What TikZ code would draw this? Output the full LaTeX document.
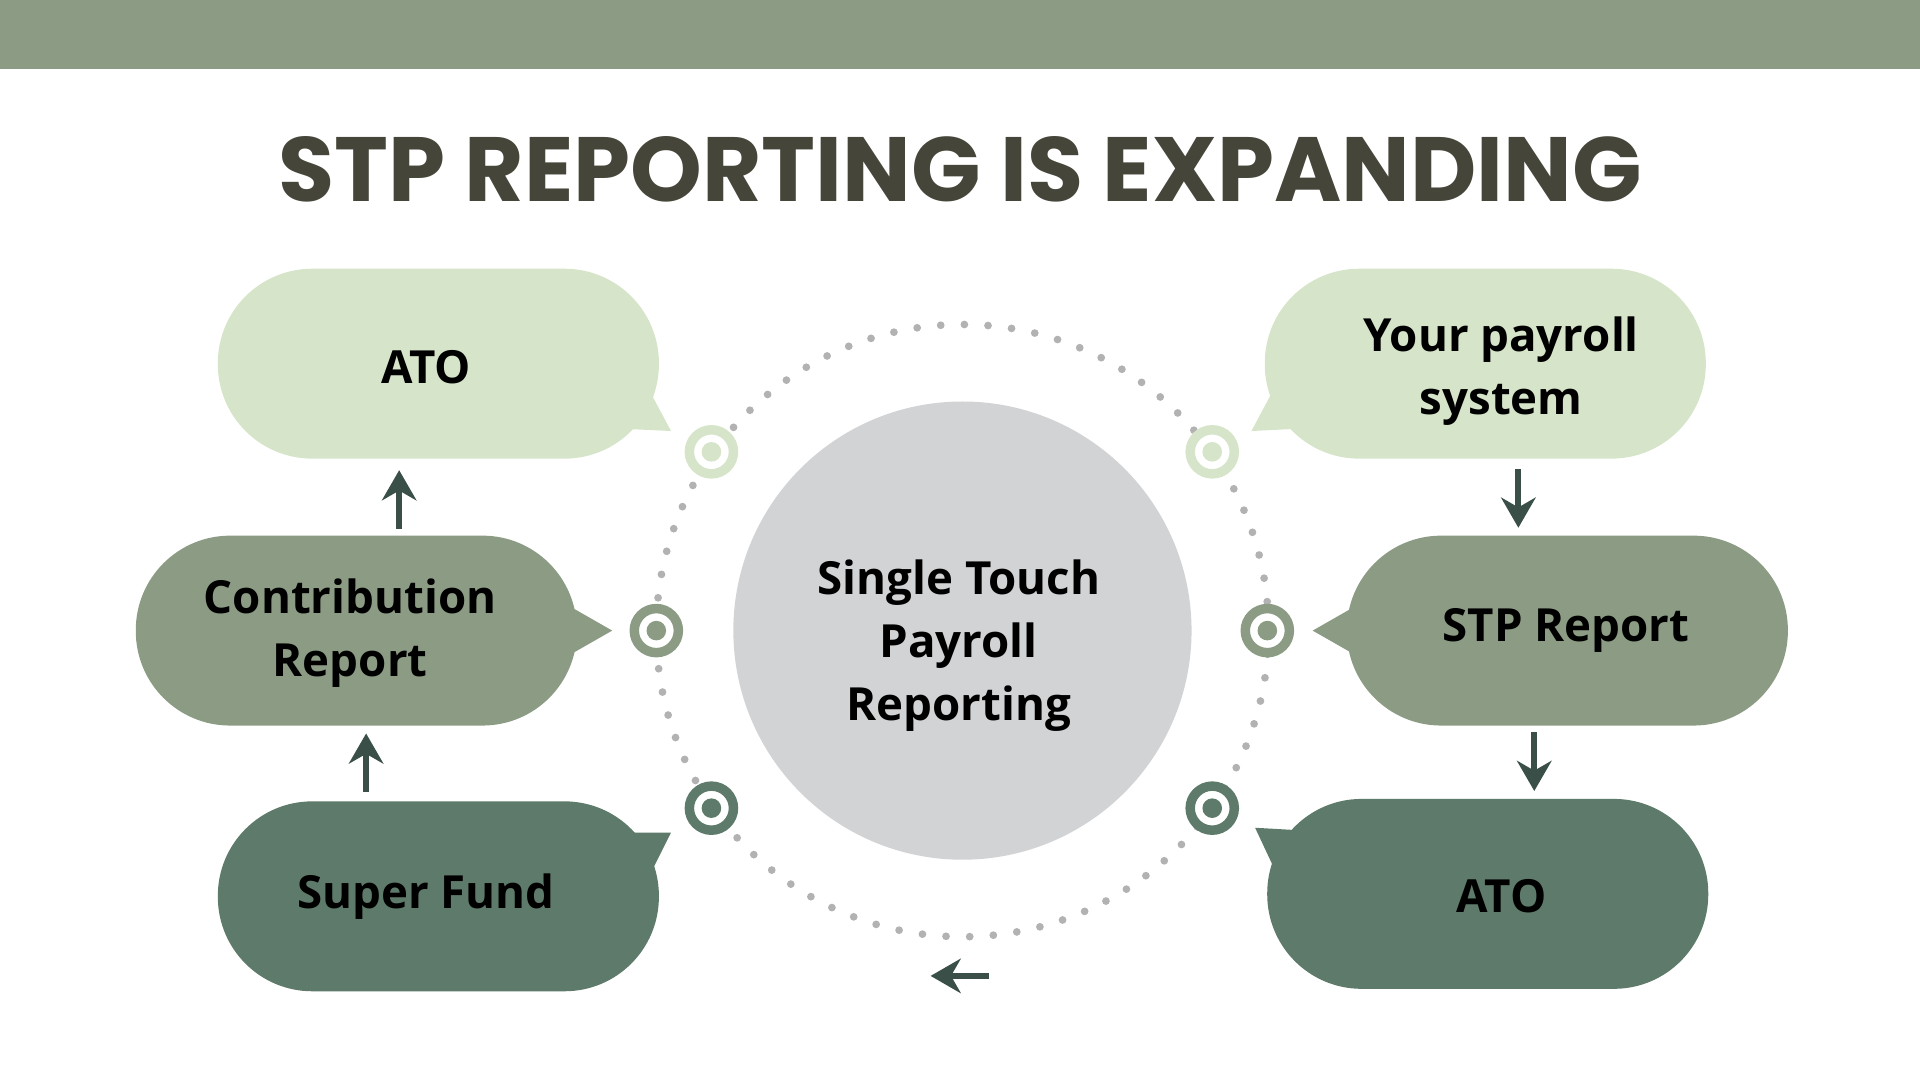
\documentclass[tikz,border=0pt]{standalone}
\usepackage{fontspec}
\setmainfont{Open Sans}
\newfontfamily\titlefont{Poppins}
\usetikzlibrary{arrows.meta}
\definecolor{lightg}{HTML}{D6E5C9}
\definecolor{midg}{HTML}{8C9C84}
\definecolor{darkg}{HTML}{5E7A6A}
\definecolor{titlec}{HTML}{45453A}
\definecolor{arrowc}{HTML}{3A4F48}
\definecolor{centerc}{HTML}{D1D3D5}
\begin{document}
\begin{tikzpicture}[x=0.01cm,y=-0.01cm,
    pill/.style={rectangle,rounded corners=0.77cm,minimum width=3.6cm,minimum height=1.55cm},
    label/.style={align=center,font=\fontsize{10.6}{14.6}\selectfont\bfseries,text=black},
    ring/.style={draw=#1,line width=2.2pt,circle,minimum size=0.36cm,inner sep=0pt},
    flow/.style={-{Stealth[length=7pt,width=8pt]},arrowc,line width=1.4pt}]
  \useasboundingbox (0,0) rectangle (1568,882);
  \fill[midg] (0,0) rectangle (1568,56);
  \node (title) at (784,138) {\titlefont\bfseries\fontsize{21.2}{24}\selectfont\color{titlec}STP REPORTING IS EXPANDING};

  % centre
  \draw[gray!60,line width=1.8pt,dash pattern=on 0pt off 5.5pt,line cap=round] (786,515) circle (250);
  \node[circle,fill=centerc,minimum size=3.74cm] (stp) at (786,515) {};
  \node[label] at (783,527) {Single Touch\\Payroll\\Reporting};

  % tails
  \fill[lightg] (505,350) -- (548,352) -- (532,322) -- cycle;
  \fill[midg] (465,495) -- (500,515) -- (465,535) -- cycle;
  \fill[darkg] (510,680) -- (548,680) -- (532,712) -- cycle;
  \fill[lightg] (1063,350) -- (1022,352) -- (1038,322) -- cycle;
  \fill[midg] (1107,495) -- (1072,515) -- (1107,535) -- cycle;
  \fill[darkg] (1060,678) -- (1025,676) -- (1040,708) -- cycle;

  % left side
  \node[pill,fill=lightg] (ato) at (358,297) {};
  \node[label] at (348,300) {ATO};
  \node[pill,fill=midg] (contrib) at (291,515) {};
  \node[label] at (286,517) {Contribution\\Report};
  \node[pill,fill=darkg] (fund) at (358,732) {};
  \node[label] at (348,732) {Super Fund};
  % right side
  \node[pill,fill=lightg] (payroll) at (1213,297) {};
  \node[label] at (1226,303) {Your payroll\\system};
  \node[pill,fill=midg] (report) at (1280,515) {};
  \node[label] at (1279,515) {STP Report};
  \node[pill,fill=darkg] (atoR) at (1215,730) {};
  \node[label] at (1226,732) {ATO};

  % markers
  \foreach \n/\c/\px/\py in {m1/lightg/581/369, m2/midg/536/515, m3/darkg/581/660,
                             m4/lightg/990/369, m5/midg/1035/515, m6/darkg/990/660} {
    \node[ring=\c,fill=white] (\n) at (\px,\py) {};
    \fill[\c] (\n) circle (8);
  }

  % flow arrows
  \coordinate (a1) at (326,432); \coordinate (a2) at (326,384);
  \coordinate (b1) at (299,647); \coordinate (b2) at (299,599);
  \coordinate (c1) at (1240,383); \coordinate (c2) at (1240,431);
  \coordinate (d1) at (1253,598); \coordinate (d2) at (1253,646);
  \coordinate (e1) at (808,797); \coordinate (e2) at (760,797);
  \draw[flow] (a1) -- (a2);
  \draw[flow] (b1) -- (b2);
  \draw[flow] (c1) -- (c2);
  \draw[flow] (d1) -- (d2);
  \draw[flow] (e1) -- (e2);
\end{tikzpicture}
\end{document}
